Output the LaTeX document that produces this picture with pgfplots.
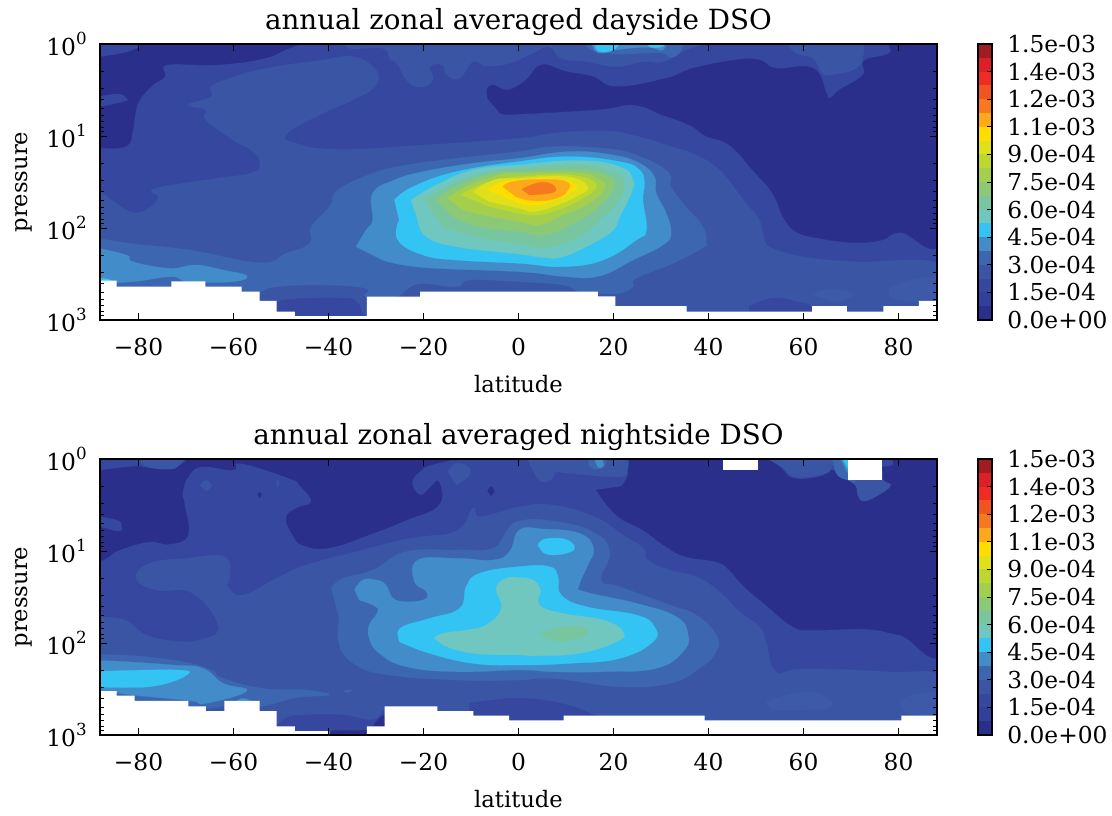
\documentclass[border=0pt]{standalone}
\usepackage{fontspec}
\setmainfont{DejaVu Serif}
\usepackage{pgfplots}
\pgfplotsset{compat=1.18}
\definecolor{b1}{HTML}{2B2F8C}\definecolor{b2}{HTML}{33409A}\definecolor{b3}{HTML}{35479F}\definecolor{b4}{HTML}{3A55A4}
\definecolor{b5}{HTML}{3C67B0}\definecolor{b6}{HTML}{428CCA}\definecolor{b7}{HTML}{34C4F3}\definecolor{b8}{HTML}{70C7BF}
\definecolor{b9}{HTML}{78C6A0}\definecolor{b10}{HTML}{8CC976}\definecolor{b11}{HTML}{A4CF4E}\definecolor{b12}{HTML}{BDD72E}
\definecolor{b13}{HTML}{E0E01A}\definecolor{b14}{HTML}{FFDD00}\definecolor{b15}{HTML}{FCAA1B}\definecolor{b16}{HTML}{F6791F}
\definecolor{b17}{HTML}{F1551F}\definecolor{b18}{HTML}{EE2C24}\definecolor{b19}{HTML}{DC2027}\definecolor{b20}{HTML}{A01C20}
\definecolor{b45}{HTML}{3C5AA7}
\pgfplotsset{
  table/lp/.style={row sep=\\,x index=0,y expr=10^(\thisrowno{1})},
  cband/.style={fill=b#1,draw=b#1,line width=0.2pt,smooth,tension=0.75},
  whitemask/.style={fill=white,draw=none,sharp plot},
  panelax/.style={
    scale only axis,width=627.75pt,height=207pt,
    xmin=-88.1,xmax=88.1,ymin=1,ymax=1000,y dir=reverse,
    axis on top,axis line style={line width=1.1pt},
    tick align=inside,xtick pos=both,ytick pos=both,
    major tick length=5pt,minor tick length=2.8pt,
    tick style={black,line width=0.6pt},
    xtick={-80,-60,-40,-20,0,20,40,60,80},
    xticklabels={−80,−60,−40,−20,0,20,40,60,80},
    xticklabel shift=10pt,yticklabel shift=6.5pt,
    log number format basis/.code 2 args={##1\raisebox{0.45em}{\fontsize{12.5}{14}\selectfont\pgfmathprintnumber[assume math mode=true]{##2}}},
    tick label style={font=\fontsize{17.5}{20}\selectfont},
    label style={font=\fontsize{17}{20}\selectfont},
    title style={font=\fontsize{20.8}{24}\selectfont,yshift=-3.5pt},
    xlabel=latitude,ylabel=pressure,
    xlabel style={yshift=-8pt},ylabel style={yshift=3.5pt},
  },
  cbax/.style={
    scale only axis,width=10.5pt,height=207pt,
    xmin=0,xmax=1,ymin=0,ymax=150,xtick=\empty,
    axis on top,axis line style={line width=1.1pt},
    tick align=inside,ytick pos=right,yticklabel pos=right,
    major tick length=3.5pt,tick style={black,line width=0.6pt},
    ytick={0,15,30,45,60,75,90,105,120,135,150},
    yticklabels={0.0e+00,1.5e-04,3.0e-04,4.5e-04,6.0e-04,7.5e-04,9.0e-04,1.1e-03,1.2e-03,1.4e-03,1.5e-03},
    yticklabel shift=8pt,
    tick label style={font=\fontsize{17.5}{20}\selectfont},
  },
}
\newcommand\cb[3]{\addplot[fill=b#1,draw=none] coordinates {(0,#2)(1,#2)(1,#3)(0,#3)} -- cycle;}
\newcommand\cbars{\cb{1}{0}{7.5}\cb{2}{7.5}{15}\cb{3}{15}{22.5}\cb{4}{22.5}{30}\cb{5}{30}{37.5}\cb{6}{37.5}{45}\cb{7}{45}{52.5}\cb{8}{52.5}{60}\cb{9}{60}{67.5}\cb{10}{67.5}{75}\cb{11}{75}{82.5}\cb{12}{82.5}{90}\cb{13}{90}{97.5}\cb{14}{97.5}{105}\cb{15}{105}{112.5}\cb{16}{112.5}{120}\cb{17}{120}{127.5}\cb{18}{127.5}{135}\cb{19}{135}{142.5}\cb{20}{142.5}{150}}
\begin{document}
\begin{tikzpicture}
\path[use as bounding box] (0,0) rectangle (834pt,-611.25pt);
% ---------- dayside ----------
\begin{axis}[ymode=log,panelax,anchor=north west,at={(75pt,-33pt)},title={annual zonal averaged dayside DSO}]
\addplot[fill=b3,draw=none] coordinates {(-90,0.9)(90,0.9)(90,1100)(-90,1100)} -- cycle;
\addplot[cband=1] table[lp] {-90 0.156\\-83.3 0.1\\-79.8 0.036\\-77 -0.05\\-48.2 -0.05\\-50 0.083\\-55.2 0.174\\-62.2 0.22\\-66.5 0.228\\-74.2 0.228\\-74.5 0.355\\-77 0.446\\-79.8 0.609\\-80.8 0.79\\-81.2 0.935\\-82.9 1.116\\-90 1.116\\} -- cycle;
\addplot[cband=3] table[lp] {-90 0.594\\-84.7 0.543\\-82.6 0.59\\-83.3 0.627\\-90 0.7\\} -- cycle;
\addplot[cband=1] table[lp] {-6.7 0.5\\-5.4 0.446\\-2.2 0.5\\1.6 0.391\\4.8 0.228\\10 0.3\\15.6 0.355\\20.6 0.464\\31.1 0.373\\36.7 0.264\\45.8 0.174\\50.7 0.174\\54.2 0.264\\62 0.264\\64.8 0.536\\65.5 0.59\\67.6 0.5\\72.5 0.337\\72.8 0.181\\78.1 0.1\\78.8 -0.05\\90 -0.05\\90 2.036\\80.2 2.047\\76.4 2.13\\70.4 2.156\\63.4 2.112\\58.5 2.04\\55.7 1.877\\53.5 1.623\\49.3 1.37\\44.4 1.098\\39.5 1\\36 0.88\\30.4 0.772\\24.4 0.663\\17.8 0.707\\9.3 0.736\\0.2 0.761\\-3.3 0.761\\-4.4 0.717\\-6.5 0.59\\} -- cycle;
\addplot[cband=4] table[lp] {-90 1.5\\-84.7 1.732\\-80.5 1.833\\-77 1.75\\-75.9 1.659\\-76.3 1.569\\-63.6 1.46\\-56.6 1.406\\-54.4 1.315\\-55.9 1.17\\-60.1 1.043\\-65.8 0.826\\-65.8 0.717\\-69.6 0.663\\-64.7 0.572\\-64.7 0.464\\-60.8 0.373\\-53.1 0.264\\-41.2 0.174\\-34.9 0.138\\-30 0.283\\-30.3 0.464\\-34.9 0.609\\-41.2 0.754\\-48.6 0.971\\-46.8 1.08\\-37.7 1.145\\-20.1 1.098\\0 1.025\\7.2 0.971\\17.8 0.942\\24.8 1\\31.1 1.098\\37.4 1.207\\42.3 1.37\\45.8 1.587\\47.9 1.732\\50.7 1.913\\51.8 2.13\\53.5 2.221\\59.9 2.312\\70.4 2.366\\90 2.42\\90 3.05\\-90 3.05\\} -- cycle;
\addplot[cband=45] table[lp] {61.8 2.728\\66 2.656\\70.5 2.728\\66.7 2.8\\} -- cycle;
\addplot[cband=45] table[lp] {78 2.656\\82.8 2.565\\90 2.55\\90 2.82\\80.7 2.783\\78 2.728\\} -- cycle;
\addplot[cband=4] table[lp] {-36.3 -0.05\\-35.6 0.047\\-28.6 0.047\\-27.2 0.156\\-25.4 0.228\\-23.6 0.391\\-20.8 0.471\\-18 0.391\\-18.6 0.246\\-15.9 0.228\\-15.2 0.337\\-12.4 0.373\\-9.6 0.192\\-6.8 0.239\\-1.9 0.21\\3 0.1\\6.5 0.03\\9 0.156\\14.2 0.192\\20.6 0.246\\26.2 0.192\\30.4 0.192\\35.3 0.065\\38.1 0.01\\38.1 -0.05\\} -- cycle;
\addplot[cband=4] table[lp] {55.7 -0.05\\58.5 0.1\\62 0.156\\63.7 0.3\\65.5 0.337\\71.1 0.264\\72.6 0.12\\72.5 -0.05\\} -- cycle;
\addplot[cband=5] table[lp] {14.2 -0.05\\15.3 0.065\\21.3 0.109\\29.7 0.094\\32.1 0.145\\34.2 0.072\\34.6 -0.05\\} -- cycle;
\addplot[cband=6] table[lp] {15.3 -0.05\\16.7 0.094\\21.3 0.058\\27.2 0.036\\30.4 0.065\\31.1 -0.05\\} -- cycle;
\addplot[cband=7] table[lp] {16 -0.05\\16.7 0.072\\19.9 0.065\\22 -0.05\\} -- cycle;
\addplot[cband=7] table[lp] {27 -0.05\\27.6 0.03\\30.4 0.025\\30.7 -0.05\\} -- cycle;
\addplot[cband=5] table[lp] {-90 2.094\\-81.9 2.167\\-69.3 2.239\\-54.5 2.377\\-48.9 2.275\\-44 2.167\\-43.6 1.986\\-39.8 1.768\\-38 1.587\\-30.7 1.406\\-23.6 1.315\\-13.1 1.243\\0 1.17\\7.2 1.116\\17.8 1.134\\24.8 1.207\\31.4 1.388\\32.1 1.551\\34.6 1.732\\38.8 1.986\\39.5 2.167\\39.2 2.203\\32.5 2.384\\24.8 2.547\\24.1 2.638\\21.3 2.71\\16.7 2.71\\12.8 2.692\\9.3 2.62\\0 2.583\\-10.3 2.565\\-13.1 2.638\\-21.2 2.609\\-25.8 2.746\\-32.1 2.746\\-32.1 2.656\\-41.2 2.62\\-51 2.638\\-54.5 2.692\\-58 2.72\\-90 2.72\\} -- cycle;
\addplot[cband=3] table[lp] {-50.9 2.819\\-48.2 2.775\\-37 2.764\\-34.2 2.8\\-33.1 2.909\\-33.1 3.05\\-50.9 3.05\\} -- cycle;
\addplot[cband=3] table[lp] {48.6 2.855\\53.5 2.764\\58.5 2.8\\62 2.873\\62 3.05\\48.6 3.05\\} -- cycle;
\addplot[cband=6] table[lp] {-90 2.203\\-82.6 2.293\\-81.2 2.366\\-73.5 2.438\\-67.9 2.402\\-62.2 2.457\\-57.2 2.52\\-60.1 2.583\\-69.3 2.583\\-73.1 2.529\\-81.2 2.583\\-90 2.6\\} -- cycle;
\addplot[cband=7] table[lp] {-90 2.54\\-86.2 2.56\\-86.2 2.62\\-90 2.62\\} -- cycle;
\addplot[cband=6] table[lp] {-34.2 2.203\\-32.1 2.022\\-30.7 1.913\\-30.7 1.623\\-26.1 1.478\\-20.1 1.388\\-9.6 1.297\\0 1.243\\10.7 1.17\\19.9 1.207\\25.5 1.297\\28.6 1.442\\29 1.623\\31.1 1.841\\32.1 2.058\\30.4 2.185\\24.1 2.348\\17 2.522\\10 2.529\\0.2 2.475\\-20.1 2.428\\-28.6 2.348\\} -- cycle;
\addplot[cband=7] table[lp] {-26.1 1.696\\-22.2 1.551\\-13.1 1.388\\0 1.279\\10.7 1.225\\21.3 1.279\\25.5 1.37\\26.5 1.514\\26.2 1.696\\26.9 2.022\\24.8 2.13\\17.8 2.348\\9.3 2.42\\0.2 2.384\\-13.1 2.348\\-20.1 2.293\\-25.4 2.13\\-25.1 1.913\\} -- cycle;
\addplot[cband=8] table[lp] {-22.6 1.696\\-17.3 1.533\\-9.6 1.37\\0 1.315\\12.8 1.268\\21.3 1.333\\24.1 1.478\\23.7 1.623\\21.3 1.877\\19.9 2.022\\15.6 2.167\\9.3 2.312\\5.1 2.319\\0.2 2.283\\-13.1 2.203\\-19.4 2.094\\-21.2 1.913\\} -- cycle;
\addplot[cband=9] table[lp] {-19.8 1.696\\-14.5 1.533\\-6.1 1.388\\0 1.351\\12.8 1.315\\19.9 1.388\\22.3 1.514\\20.6 1.732\\17 1.913\\12.8 2.094\\5.8 2.21\\0.2 2.167\\-7.5 2.112\\-15.9 1.986\\} -- cycle;
\addplot[cband=10] table[lp] {-17.3 1.696\\-13.1 1.551\\-5.4 1.406\\0 1.388\\12.8 1.37\\18.5 1.424\\20.2 1.551\\17 1.768\\12.8 1.913\\5.8 2.076\\0.2 2.04\\-8.2 1.986\\-13.8 1.877\\} -- cycle;
\addplot[cband=11] table[lp] {-14.9 1.678\\-11 1.551\\-4 1.424\\0 1.406\\12.8 1.4\\16.4 1.46\\18.3 1.551\\14.9 1.732\\9.3 1.859\\4.4 1.967\\0.2 1.931\\-7.5 1.859\\-11.7 1.804\\} -- cycle;
\addplot[cband=12] table[lp] {-12.1 1.641\\-8.2 1.533\\-2.6 1.46\\0 1.442\\10.7 1.424\\16.4 1.533\\12.8 1.696\\7.2 1.822\\3 1.859\\0.2 1.841\\-6.1 1.768\\} -- cycle;
\addplot[cband=13] table[lp] {-9.6 1.605\\-5.1 1.478\\0 1.46\\10 1.442\\14.6 1.551\\12.1 1.659\\7.2 1.768\\3 1.822\\0.2 1.786\\-6.1 1.714\\} -- cycle;
\addplot[cband=14] table[lp] {-6.5 1.587\\-3.3 1.496\\0 1.478\\6.5 1.46\\12.1 1.533\\10 1.641\\4.4 1.75\\0.2 1.732\\} -- cycle;
\addplot[cband=15] table[lp] {-3.3 1.551\\-1.2 1.496\\4.4 1.471\\10 1.496\\10.4 1.587\\7.9 1.678\\3 1.703\\-0.5 1.659\\} -- cycle;
\addplot[cband=16] table[lp] {0.7 1.58\\3.7 1.514\\6.5 1.514\\7.9 1.58\\6.5 1.623\\2.3 1.641\\} -- cycle;
\addplot[whitemask] table[lp] {-90 2.572\\-84.6 2.572\\-84.6 2.638\\-73.1 2.638\\-73.1 2.58\\-65.9 2.58\\-65.9 2.638\\-58.3 2.638\\-58.3 2.692\\-54.5 2.692\\-54.5 2.793\\-50.9 2.793\\-50.9 2.909\\-47.1 2.909\\-47.1 2.957\\-31.9 2.957\\-31.9 2.746\\-20.7 2.746\\-20.7 2.692\\16.7 2.692\\16.7 2.743\\20.4 2.743\\20.4 2.848\\35.4 2.848\\35.4 2.909\\61.8 2.909\\61.8 2.848\\69.1 2.848\\69.1 2.909\\76.8 2.909\\76.8 2.848\\84.3 2.848\\84.3 2.793\\90 2.793\\90 3.05\\-90 3.05\\} -- cycle;
\end{axis}
\begin{axis}[cbax,anchor=north west,at={(733.5pt,-33pt)}]
\cbars
\end{axis}
% ---------- nightside ----------
\begin{axis}[ymode=log,panelax,anchor=north west,at={(75pt,-344.25pt)},title={annual zonal averaged nightside DSO}]
\addplot[fill=b3,draw=none] coordinates {(-90,0.9)(90,0.9)(90,1100)(-90,1100)} -- cycle;
\addplot[cband=1] table[lp] {-90 0.138\\-81.2 0.083\\-78.4 0.094\\-73.5 0.112\\-70 0.022\\-69 -0.05\\-17.3 -0.05\\-20.1 0.1\\-22.4 0.246\\-20.8 0.391\\-18.7 0.319\\-16.8 0.246\\-16.8 0.5\\-23.6 0.663\\-30.7 0.808\\-39.8 0.964\\-45.4 0.935\\-47.5 0.826\\-48.9 0.645\\-46.8 0.536\\-43.6 0.464\\-46.1 0.283\\-48.2 0.21\\-58.4 0.047\\-60.1 0.12\\-66.5 0.083\\-69.3 0.174\\-70.7 0.355\\-70.3 0.5\\-69.6 0.826\\-73.5 0.924\\-77.7 0.899\\-84 0.989\\-86.8 1.08\\-90 1.15\\} -- cycle;
\addplot[cband=3] table[lp] {-90 0.609\\-84.7 0.663\\-83.6 0.717\\-84.3 0.783\\-90 0.7\\} -- cycle;
\addplot[cband=1] table[lp] {-54.9 0.391\\-54.5 0.36\\-54.1 0.391\\-54.5 0.42\\} -- cycle;
\addplot[cband=1] table[lp] {-6.5 0.348\\-5.8 0.3\\-5.1 0.348\\-5.8 0.4\\} -- cycle;
\addplot[cband=4] table[lp] {-67 0.29\\-65.8 0.23\\-64.6 0.29\\-65.8 0.35\\} -- cycle;
\addplot[cband=4] table[lp] {-51 0.264\\-50.7 0.22\\-50.4 0.264\\-50.7 0.31\\} -- cycle;
\addplot[cband=4] table[lp] {-79.8 -0.05\\-78.7 0.072\\-73.5 0.109\\-71.4 0.065\\-69.6 -0.05\\} -- cycle;
\addplot[cband=1] table[lp] {16.4 0.337\\20.6 0.609\\26.2 0.772\\31.1 0.953\\35.3 1.062\\41.6 1.116\\44.4 1.207\\47.2 1.37\\52.1 1.587\\57.8 1.822\\62 1.859\\73.2 1.848\\80.2 1.913\\90 2\\90 -0.05\\79.9 -0.05\\78.8 0.065\\76.4 0.1\\76.7 0.228\\78.2 0.3\\73.2 0.453\\71.4 0.391\\71.1 0.3\\69.3 0.21\\65.8 0.12\\63.4 0.192\\57.8 0.21\\54.9 0.083\\50.7 -0.05\\23 -0.05\\23 0.174\\21.6 0.3\\} -- cycle;
\addplot[cband=4] table[lp] {-90 1.714\\-84 1.732\\-81.2 1.804\\-78.4 1.913\\-72.8 1.975\\-67.2 1.967\\-63.2 1.822\\-68.6 1.46\\-76.3 1.424\\-80.5 1.297\\-77.7 1.134\\-70 1.08\\-61.9 1.062\\-60.8 1.297\\-61.2 1.388\\-58 1.478\\-51 1.297\\-44.7 1.152\\-34.2 1.007\\-22.9 0.862\\-13.1 0.783\\-9.6 0.536\\-7.9 0.627\\0.2 0.518\\7.2 0.5\\16 0.627\\22 0.826\\26.3 0.971\\27.2 1.098\\31.8 1.207\\37.4 1.279\\42.3 1.442\\46.5 1.659\\50.7 1.822\\52.1 1.986\\54.2 2.312\\59.9 2.283\\77.4 2.312\\90 2.4\\90 3.05\\-90 3.05\\} -- cycle;
\addplot[cband=45] table[lp] {52.1 2.638\\56.4 2.565\\62 2.536\\66.2 2.674\\59.9 2.728\\53.5 2.728\\} -- cycle;
\addplot[cband=45] table[lp] {80.2 2.638\\83 2.565\\90 2.55\\90 2.82\\80.9 2.746\\} -- cycle;
\addplot[cband=4] table[lp] {-14.9 0.138\\-13.1 0.047\\-10.7 0.083\\-10.3 0.174\\-13.1 0.283\\} -- cycle;
\addplot[cband=4] table[lp] {1.6 -0.05\\3 0.12\\4.8 0.246\\7.2 0.21\\7.9 0.138\\10.7 0.156\\21.3 0.192\\23 0.1\\23 -0.05\\} -- cycle;
\addplot[cband=5] table[lp] {14.6 -0.05\\15.3 0.094\\18.1 0.083\\18.1 -0.05\\} -- cycle;
\addplot[cband=6] table[lp] {15.8 -0.05\\16.7 0.083\\17.9 0.065\\17 -0.05\\} -- cycle;
\addplot[cband=4] table[lp] {50.7 -0.05\\55.3 0.083\\58.1 0.192\\63.4 0.174\\65.8 0.109\\66.2 -0.05\\} -- cycle;
\addplot[cband=4] table[lp] {69.3 0.21\\71.1 0.3\\71.4 0.391\\73.2 0.453\\78.2 0.3\\76.7 0.228\\76 0.1\\70 0.1\\} -- cycle;
\addplot[cband=5] table[lp] {66 -0.05\\66.9 0.156\\69.3 0.228\\71 0.23\\71 -0.05\\} -- cycle;
\addplot[cband=6] table[lp] {67.4 -0.05\\69.3 0.15\\70 0.15\\70 -0.05\\} -- cycle;
\addplot[cband=7] table[lp] {67.9 -0.05\\69.3 0.1\\70 0.1\\70 -0.05\\} -- cycle;
\addplot[cband=3] table[lp] {-10.3 2.656\\-5.4 2.62\\0 2.601\\7.2 2.638\\14.2 2.746\\15 2.855\\-10.3 2.855\\} -- cycle;
\addplot[cband=3] table[lp] {-50.8 2.891\\-48.2 2.8\\-44.7 2.783\\-37 2.783\\-30.7 2.837\\-28.2 2.746\\-28.2 3.05\\-50.8 3.05\\} -- cycle;
\addplot[cband=1] table[lp] {-39.8 3.05\\-39.5 2.96\\-32.1 2.946\\-30 2.855\\-28.2 2.8\\-28.2 3.05\\} -- cycle;
\addplot[cband=5] table[lp] {-90 2.13\\-81.2 2.138\\-70.7 2.203\\-64.7 2.293\\-62.2 2.384\\-53.8 2.493\\-44.7 2.511\\-39.8 2.565\\-46.8 2.594\\-54.5 2.692\\-58.4 2.656\\-65.8 2.71\\-72.8 2.674\\-81.2 2.656\\-90 2.65\\} -- cycle;
\addplot[cband=5] table[lp] {-36.8 2.52\\-35.2 2.51\\-36 2.54\\} -- cycle;
\addplot[cband=6] table[lp] {-90 2.203\\-85.4 2.196\\-72.8 2.239\\-66.5 2.275\\-62.2 2.438\\-57.2 2.522\\-65.8 2.656\\-68.6 2.63\\-76.3 2.59\\-81.2 2.565\\-90 2.5\\} -- cycle;
\addplot[cband=6] table[lp] {-59.5 2.64\\-58 2.6\\-56 2.64\\} -- cycle;
\addplot[cband=7] table[lp] {-90 2.312\\-72.1 2.293\\-70.1 2.355\\-76.3 2.464\\-84 2.482\\-90 2.47\\} -- cycle;
\addplot[cband=5] table[lp] {-39.4 1.406\\-37 1.297\\-30.7 1.207\\-23.6 1.007\\-13.1 0.989\\-5.4 0.971\\-2.6 0.79\\0.2 0.674\\7.2 0.674\\15.6 0.79\\19.2 1.007\\17.4 1.315\\21.3 1.388\\31.8 1.587\\37.4 1.696\\41.6 1.913\\41.6 2.094\\38.1 2.275\\31.8 2.438\\21.3 2.475\\7.2 2.384\\0.2 2.402\\-13.1 2.402\\-27.2 2.348\\-34.2 2.239\\-37.7 2.022\\-37.7 1.732\\} -- cycle;
\addplot[cband=6] table[lp] {-34.5 1.424\\-32.8 1.315\\-30 1.315\\-27.9 1.37\\-25.8 1.533\\-20.1 1.533\\-19.4 1.442\\-21.9 1.333\\-21.2 1.098\\-13.1 1.08\\-5.4 1.098\\-1.9 1.007\\0.2 0.772\\5.1 0.761\\12.8 0.808\\15.8 0.971\\14.6 1.152\\12.8 1.37\\13.9 1.442\\24.8 1.569\\33.2 1.714\\35.7 1.913\\34.6 2.094\\29 2.275\\17.8 2.312\\7.2 2.312\\0.2 2.293\\-13.1 2.312\\-23.6 2.257\\-29.3 2.112\\-31.4 1.949\\-31.4 1.804\\-29.8 1.678\\-30 1.605\\-33.5 1.533\\} -- cycle;
\addplot[cband=7] table[lp] {-25.4 1.913\\-24.4 1.822\\-18.7 1.732\\-12.4 1.623\\-11 1.388\\-8.2 1.243\\0.2 1.17\\6.5 1.17\\8.3 1.279\\9 1.478\\14.2 1.605\\24.8 1.696\\28.6 1.822\\28.3 1.986\\21.3 2.167\\10.7 2.221\\0.2 2.239\\-9.6 2.221\\-18.7 2.112\\-25.1 1.986\\} -- cycle;
\addplot[cband=7] table[lp] {4.1 0.935\\5.5 0.87\\9.7 0.87\\11.8 0.953\\10.7 1.014\\7.2 1.043\\5.1 1.014\\} -- cycle;
\addplot[cband=8] table[lp] {-17.7 1.949\\-15.9 1.895\\-11 1.859\\-6.8 1.804\\-3.6 1.623\\-4.7 1.406\\-2.6 1.297\\0.2 1.29\\3 1.315\\4.6 1.424\\4.4 1.587\\9.3 1.678\\17.8 1.75\\22 1.877\\20.6 1.986\\12.8 2.112\\3.7 2.138\\0.2 2.13\\-9.6 2.112\\-15.9 2.022\\} -- cycle;
\addplot[cband=9] table[lp] {4.3 1.913\\7.9 1.841\\13.5 1.822\\14.6 1.895\\12.8 1.949\\8.6 1.986\\} -- cycle;
\addplot[whitemask] table[lp] {-90 2.522\\-84.6 2.522\\-84.6 2.572\\-80.8 2.572\\-80.8 2.63\\-69.5 2.63\\-69.5 2.688\\-65.8 2.688\\-65.8 2.739\\-61.9 2.739\\-61.9 2.63\\-54.5 2.63\\-54.5 2.739\\-50.9 2.739\\-50.9 2.906\\-47.1 2.906\\-47.1 2.957\\-39.8 2.957\\-39.8 3.05\\-31.9 3.05\\-31.9 2.906\\-28.2 2.906\\-28.2 2.688\\-17.1 2.688\\-17.1 2.739\\-9.5 2.739\\-9.5 2.79\\-2 2.79\\-2 2.841\\9.5 2.841\\9.5 2.79\\39.2 2.79\\39.2 2.841\\80.6 2.841\\80.6 2.79\\90 2.79\\90 3.05\\-90 3.05\\} -- cycle;
\addplot[whitemask] table[lp] {43.1 -0.05\\50.4 -0.05\\50.4 0.12\\43.1 0.12\\} -- cycle;
\addplot[whitemask] table[lp] {69.3 -0.05\\76.6 -0.05\\76.6 0.225\\69.3 0.225\\} -- cycle;
\end{axis}
\begin{axis}[cbax,anchor=north west,at={(733.5pt,-344.25pt)}]
\cbars
\end{axis}
\end{tikzpicture}
\end{document}
